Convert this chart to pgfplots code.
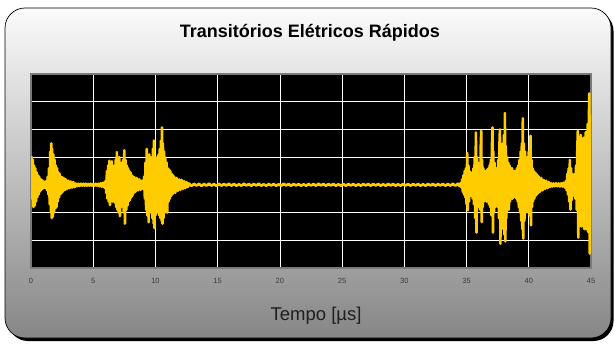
\documentclass[border=0pt]{standalone}
\usepackage{fontspec}
\setmainfont{Liberation Sans}
\usepackage{pgfplots}
\pgfplotsset{compat=1.18}
\definecolor{sig}{HTML}{FFCC00}
\definecolor{bgtop}{HTML}{FBFBFB}
\definecolor{bgbot}{HTML}{868686}
\definecolor{frame}{HTML}{7A7A7A}
\definecolor{ticktxt}{HTML}{3A3A3A}
\begin{document}
\begin{tikzpicture}[x=1bp,y=1bp]
\path (0,0) rectangle (614,343);
\fill[black, rounded corners=20bp] (8,2) rectangle (613.5,332);
\shadedraw[top color=bgtop, bottom color=bgbot, draw=black, line width=0.7bp, rounded corners=20bp] (5,5) rectangle (611,335);
\begin{axis}[
  at={(31bp,75bp)}, anchor=south west,
  scale only axis, width=560bp, height=194bp,
  xmin=0, xmax=45, ymin=-3, ymax=4,
  xtick={0,5,...,45}, ytick={-3,...,4}, yticklabel={\relax},
  major tick length=0pt,
  grid=major,
  major grid style={white, line width=0.7bp},
  axis background/.style={fill=black},
  axis line style={draw=frame, line width=2bp},
  tick label style={font=\fontsize{7.5bp}{8bp}\selectfont, text=ticktxt},
  /pgf/number format/assume math mode=true,
  xticklabel style={inner sep=0pt, yshift=-10bp},
  title={Transitórios Elétricos Rápidos},
  title style={font=\bfseries\fontsize{18bp}{20bp}\selectfont, at={(axis description cs:0.498,1)}, anchor=base, yshift=31bp},
  xlabel={Tempo [µs]},
  xlabel style={font=\fontsize{18.5bp}{20bp}\selectfont, text=black!88, at={(axis description cs:0.509,0)}, anchor=base, yshift=-52bp},
]
\addplot[sig, line width=2.6bp, line join=round] coordinates {
(0.00,0.2)(0.05,1.0)(0.10,-0.5)(0.15,0.9)(0.20,-0.8)(0.25,0.7)(0.30,-0.75)(0.35,0.6)(0.40,-0.6)(0.45,0.45)
(0.50,-0.45)(0.55,0.35)(0.60,-0.35)(0.65,0.3)(0.70,-0.25)(0.75,0.22)(0.80,-0.2)(0.85,0.18)(0.90,-0.15)(0.95,0.15)
(1.00,-0.12)(1.05,0.12)(1.10,-0.1)(1.15,0.1)(1.20,-0.12)(1.25,0.15)(1.30,-0.2)(1.35,0.3)(1.40,-0.35)(1.45,0.6)
(1.50,-0.7)(1.55,1.2)(1.60,-1.0)(1.63,1.5)(1.67,-1.2)(1.70,1.3)(1.75,-1.15)(1.80,1.1)(1.85,-1.0)(1.90,0.9)
(1.95,-0.85)(2.00,0.7)(2.05,-0.8)(2.10,0.6)(2.15,-0.6)(2.20,0.45)(2.25,-0.45)(2.30,0.4)(2.35,-0.35)(2.40,0.3)
(2.45,-0.3)(2.50,0.28)(2.55,-0.25)(2.60,0.25)(2.65,-0.2)(2.70,0.22)(2.75,-0.18)(2.80,0.2)(2.90,-0.15)(3.00,0.15)
(3.10,-0.12)(3.20,0.12)(3.30,-0.1)(3.40,0.1)(3.50,-0.08)
(3.6,0.05)(3.7,-0.05)(3.8,0.04)(3.9,-0.04)(4.0,0.04)(4.1,-0.03)(4.2,0.04)(4.3,-0.03)(4.4,0.04)(4.5,-0.03)
(4.6,0.03)(4.7,-0.03)(4.8,0.04)(4.9,-0.03)(5.0,0.03)(5.1,-0.03)(5.2,0.04)(5.3,-0.03)(5.4,0.04)(5.5,-0.05)
(5.6,0.06)(5.7,-0.07)(5.8,0.08)(5.9,-0.1)
(6.00,0.15)(6.05,-0.3)(6.10,0.5)(6.15,-0.5)(6.20,0.7)(6.25,-0.6)(6.30,0.87)(6.35,-0.73)(6.40,0.6)(6.45,-0.55)
(6.50,0.85)(6.55,-0.6)(6.60,0.5)(6.65,-0.5)(6.70,0.7)(6.75,-0.65)(6.80,0.9)(6.85,-0.8)(6.90,1.18)(6.95,-0.9)
(7.00,0.8)(7.05,-1.0)(7.10,1.0)(7.15,-1.13)(7.20,0.7)(7.25,-0.8)(7.30,0.8)(7.35,-0.7)(7.40,0.9)(7.45,-1.0)
(7.50,1.25)(7.55,-1.4)(7.60,0.9)(7.65,-0.9)(7.70,0.7)(7.75,-0.75)(7.80,0.6)(7.85,-0.6)(7.90,0.5)(7.95,-0.55)
(8.00,0.45)(8.05,-0.45)(8.10,0.35)(8.15,-0.4)(8.20,0.3)(8.25,-0.3)(8.30,0.28)(8.40,-0.25)(8.50,0.25)(8.60,-0.2)
(8.70,0.2)(8.80,-0.18)(8.90,0.15)(9.00,-0.15)(9.10,0.3)
(9.15,-0.5)(9.20,0.8)(9.25,-0.9)(9.30,1.3)(9.35,-1.1)(9.40,1.0)(9.45,-1.35)(9.50,1.1)(9.55,-1.0)(9.60,0.9)
(9.65,-0.9)(9.70,1.0)(9.75,-1.2)(9.80,1.3)(9.85,-1.4)(9.88,1.6)(9.92,-1.56)(9.96,1.0)(10.00,-1.1)(10.05,0.9)
(10.10,-0.9)(10.15,1.0)(10.20,-1.0)(10.25,1.1)(10.30,-1.1)(10.35,1.3)(10.40,-1.2)(10.45,1.6)(10.50,-1.3)(10.53,2.07)
(10.57,-1.4)(10.60,1.5)(10.65,-1.2)(10.70,1.2)(10.75,-1.0)(10.80,0.95)(10.85,-0.98)(10.90,0.8)(10.95,-1.0)(11.00,0.6)
(11.05,-0.6)(11.10,0.55)(11.15,-0.5)(11.20,0.5)(11.25,-0.4)(11.30,0.4)(11.35,-0.35)(11.40,0.35)(11.45,-0.3)(11.50,0.3)
(11.60,-0.28)(11.70,0.25)(11.80,-0.22)(11.90,0.2)(12.00,-0.18)(12.10,0.18)(12.20,-0.15)(12.30,0.14)(12.40,-0.12)(12.50,0.1)
(12.60,-0.08)
(12.7,0.05)(12.9,-0.04)(13.1,0.04)(13.3,-0.03)(13.5,0.04)(13.7,-0.04)(13.9,0.03)(14.1,-0.03)(14.3,0.05)(14.5,-0.03)
(14.7,0.03)(14.9,-0.04)(15.1,0.04)(15.3,-0.03)(15.5,0.03)(15.7,-0.02)(15.9,0.04)(16.1,-0.03)(16.3,0.03)(16.5,-0.03)
(16.7,0.02)(16.9,-0.03)(17.1,0.04)(17.3,-0.02)(17.5,0.03)(17.7,-0.03)(17.9,0.03)(18.1,-0.02)(18.3,0.04)(18.5,-0.03)
(18.7,0.02)(18.9,-0.03)(19.1,0.03)(19.3,-0.02)(19.5,0.03)(19.7,-0.03)(19.9,0.02)(20.1,-0.03)(20.3,0.04)(20.5,-0.02)
(20.7,0.03)(20.9,-0.03)(21.1,0.03)(21.3,-0.02)(21.5,0.03)(21.7,-0.03)(21.9,0.02)(22.1,-0.03)(22.3,0.03)(22.5,-0.02)
(22.7,0.03)(22.9,-0.03)(23.1,0.04)(23.3,-0.02)(23.5,0.03)(23.7,-0.03)(23.9,0.03)(24.1,-0.02)(24.3,0.03)(24.5,-0.03)
(24.7,0.02)(24.9,-0.03)(25.1,0.03)(25.3,-0.03)(25.5,0.03)(25.7,-0.02)(25.9,0.03)(26.1,-0.03)(26.3,0.02)(26.5,-0.03)
(26.7,0.03)(26.9,-0.02)(27.1,0.03)(27.3,-0.03)(27.5,0.03)(27.7,-0.02)(27.9,0.03)(28.1,-0.03)(28.3,0.02)(28.5,-0.03)
(28.7,0.03)(28.9,-0.02)(29.1,0.03)(29.3,-0.03)(29.5,0.02)(29.7,-0.03)(29.9,0.03)(30.1,-0.02)(30.3,0.03)(30.5,-0.03)
(30.7,0.03)(30.9,-0.02)(31.1,0.03)(31.3,-0.03)(31.5,0.02)(31.7,-0.03)(31.9,0.03)(32.1,-0.02)(32.3,0.03)(32.5,-0.03)
(32.7,0.03)(32.9,-0.02)(33.1,0.03)(33.3,-0.03)(33.5,0.03)(33.7,-0.03)(33.9,0.04)(34.1,-0.03)(34.3,0.04)(34.45,-0.05)
(34.50,0.06)(34.60,-0.1)(34.65,0.2)(34.70,-0.25)(34.75,0.35)(34.80,-0.35)(34.85,0.5)(34.90,-0.45)(34.95,0.6)(35.00,-0.7)
(35.05,1.15)(35.10,-0.92)(35.15,0.7)(35.20,-0.6)(35.25,0.5)(35.30,-0.4)(35.35,0.45)(35.40,-0.4)(35.45,0.4)(35.50,-0.5)
(35.55,0.6)(35.60,-0.7)(35.65,1.0)(35.70,-1.2)(35.75,1.89)(35.80,-1.72)(35.85,1.0)(35.90,-0.8)(35.95,0.7)(36.00,-0.7)
(36.05,0.8)(36.10,-0.9)(36.14,1.4)(36.18,1.95)(36.22,-1.34)(36.25,0.9)(36.30,-0.8)(36.35,0.6)(36.40,-0.6)(36.45,0.5)
(36.50,-0.55)(36.55,0.5)(36.60,-0.6)(36.65,0.55)(36.70,-0.6)(36.75,0.6)(36.80,-0.7)(36.85,0.7)(36.90,-0.8)(36.95,0.9)
(37.00,-1.1)(37.04,1.4)(37.08,2.07)(37.12,-1.72)(37.15,1.2)(37.20,-1.0)(37.25,0.8)(37.30,-0.8)(37.35,0.6)(37.40,-0.7)
(37.45,0.6)(37.50,-0.8)(37.55,0.9)(37.60,-1.2)(37.64,1.4)(37.68,2.0)(37.72,-2.12)(37.76,1.3)(37.80,-1.2)(37.84,1.2)
(37.88,-1.4)(37.92,1.5)(37.96,-1.6)(38.00,1.8)(38.04,-1.8)(38.08,2.59)(38.12,-2.04)(38.16,1.4)(38.20,-1.2)(38.25,1.0)
(38.30,-0.9)(38.35,0.8)(38.40,-0.9)(38.45,0.7)(38.50,-0.6)(38.55,0.6)(38.60,-0.5)(38.65,0.6)(38.70,-0.5)(38.75,0.5)
(38.80,-0.45)(38.85,0.5)(38.90,-0.4)(38.95,0.5)(39.00,-0.5)(39.05,0.6)(39.10,-0.6)(39.15,0.7)(39.20,-0.8)(39.25,0.9)
(39.30,-1.0)(39.35,1.2)(39.40,-1.3)(39.44,1.5)(39.48,-1.6)(39.52,2.4)(39.56,-1.94)(39.60,1.5)(39.65,-1.3)(39.70,1.2)
(39.75,-1.0)(39.80,1.0)(39.85,-0.9)(39.90,1.0)(39.95,-1.0)(40.00,1.2)(40.05,-1.1)(40.10,1.4)(40.14,1.77)(40.18,-1.46)
(40.22,0.9)(40.26,-0.8)(40.30,0.6)(40.35,-0.6)(40.40,0.5)(40.45,-0.5)(40.50,0.45)(40.55,-0.4)(40.60,0.4)(40.65,-0.35)
(40.70,0.35)(40.75,-0.3)(40.80,0.3)(40.90,-0.25)(41.00,0.25)(41.10,-0.2)(41.20,0.18)(41.30,-0.15)(41.40,0.15)(41.50,-0.12)
(41.60,0.1)(41.70,-0.08)
(41.8,0.06)(41.9,-0.06)(42.0,0.05)(42.1,-0.05)(42.2,0.06)(42.3,-0.05)(42.4,0.05)(42.5,-0.06)(42.6,0.06)(42.7,-0.06)
(42.8,0.08)(42.9,-0.1)
(43.00,0.15)(43.05,-0.2)(43.10,0.4)(43.15,-0.35)(43.20,0.6)(43.25,-0.6)(43.30,0.9)(43.35,-0.89)(43.40,0.6)(43.45,-0.55)
(43.50,0.4)(43.55,-0.4)(43.60,0.35)(43.65,-0.35)(43.70,0.4)(43.75,-0.5)(43.80,0.7)(43.85,-0.9)(43.90,1.3)(43.94,1.95)
(43.98,-1.9)(44.02,1.5)(44.06,-1.5)(44.10,1.6)(44.14,-1.4)(44.18,1.8)(44.22,-1.5)(44.26,1.4)(44.30,-1.3)(44.34,1.5)
(44.38,-1.5)(44.42,1.7)(44.46,-1.6)(44.50,1.6)(44.54,-1.4)(44.58,1.9)(44.62,-1.6)(44.66,1.8)(44.70,-1.6)(44.74,2.2)
(44.78,-1.7)(44.82,2.0)(44.86,3.3)(44.90,-2.48)(44.94,2.5)(44.97,-2.0)(45.00,1.0)
};
\end{axis}
\end{tikzpicture}
\end{document}
